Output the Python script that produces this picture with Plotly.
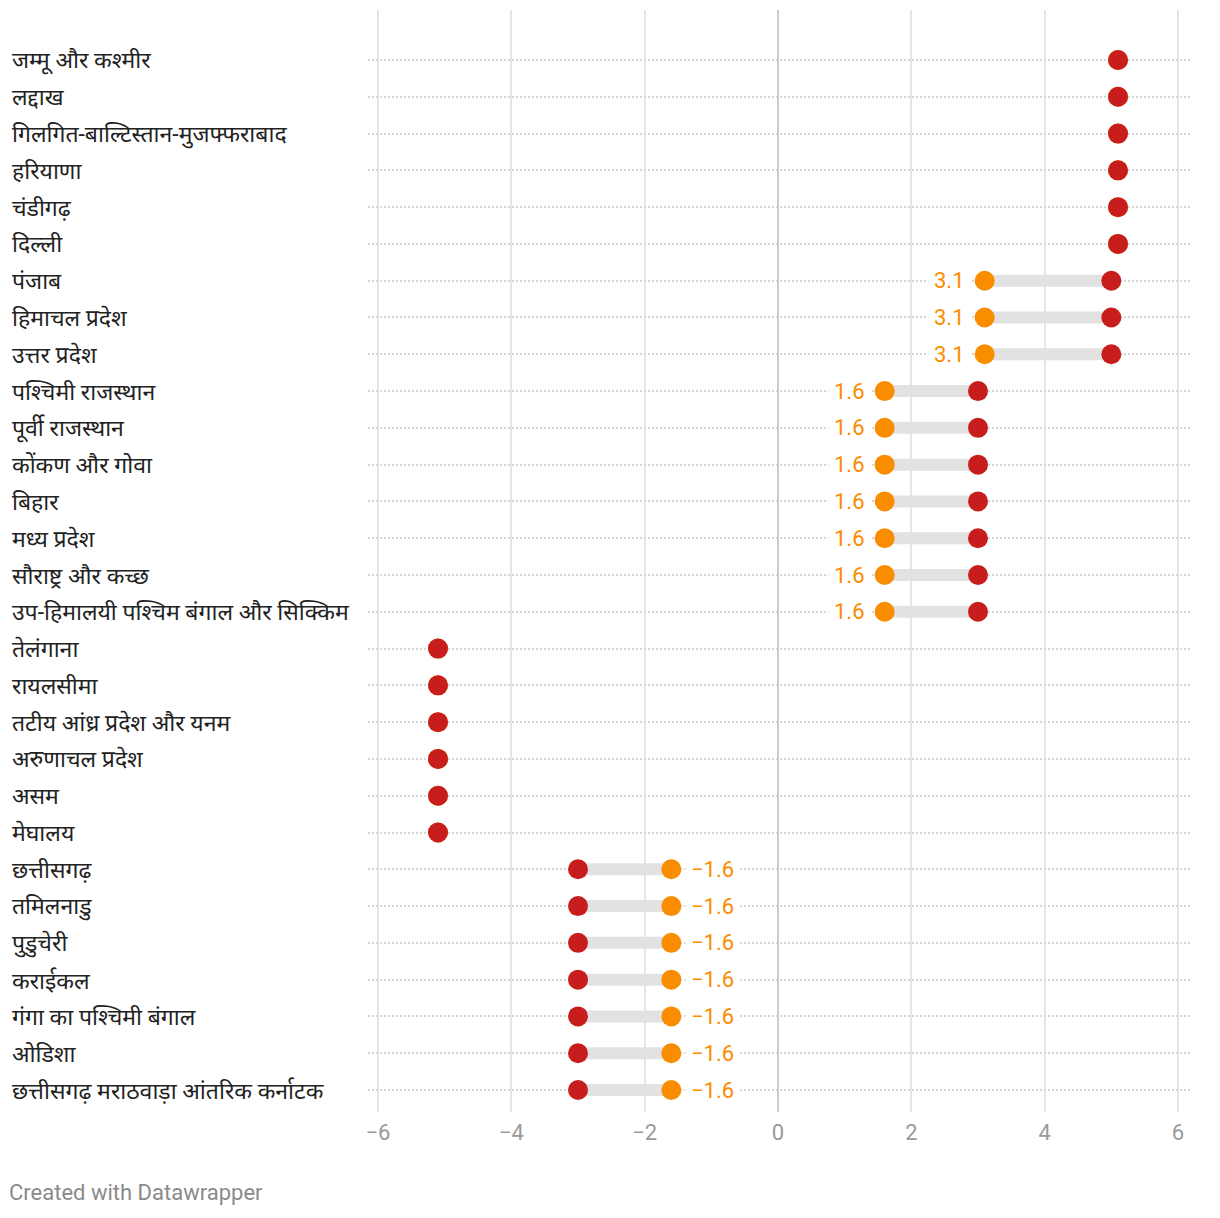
import plotly.graph_objects as go

regions = [
    "जम्मू और कश्मीर", "लद्दाख", "गिलगित-बाल्टिस्तान-मुजफ्फराबाद", "हरियाणा",
    "चंडीगढ़", "दिल्ली", "पंजाब", "हिमाचल प्रदेश", "उत्तर प्रदेश",
    "पश्चिमी राजस्थान", "पूर्वी राजस्थान", "कोंकण और गोवा", "बिहार", "मध्य प्रदेश",
    "सौराष्ट्र और कच्छ", "उप-हिमालयी पश्चिम बंगाल और सिक्किम", "तेलंगाना", "रायलसीमा",
    "तटीय आंध्र प्रदेश और यनम", "अरुणाचल प्रदेश", "असम", "मेघालय", "छत्तीसगढ़",
    "तमिलनाडु", "पुडुचेरी", "कराईकल", "गंगा का पश्चिमी बंगाल", "ओडिशा",
    "छत्तीसगढ़ मराठवाड़ा आंतरिक कर्नाटक",
]
red_values = [5.1, 5.1, 5.1, 5.1, 5.1, 5.1,
              5.0, 5.0, 5.0,
              3.0, 3.0, 3.0, 3.0, 3.0, 3.0, 3.0,
              -5.1, -5.1, -5.1, -5.1, -5.1, -5.1,
              -3.0, -3.0, -3.0, -3.0, -3.0, -3.0, -3.0]
orange_values = [5.1, 5.1, 5.1, 5.1, 5.1, 5.1,
                 3.1, 3.1, 3.1,
                 1.6, 1.6, 1.6, 1.6, 1.6, 1.6, 1.6,
                 -5.1, -5.1, -5.1, -5.1, -5.1, -5.1,
                 -1.6, -1.6, -1.6, -1.6, -1.6, -1.6, -1.6]
x_ticks = [-6, -4, -2, 0, 2, 4, 6]
x_tick_labels = ["−6", "−4", "−2", "0", "2", "4", "6"]

RED = "#c71e1d"
ORANGE = "#fa8c00"
n = len(regions)
ys = list(range(n))

fig = go.Figure()

# connectors
cx, cy = [], []
for i in range(n):
    if red_values[i] != orange_values[i]:
        cx += [red_values[i], orange_values[i], None]
        cy += [i, i, None]
fig.add_trace(go.Scatter(x=cx, y=cy, mode="lines",
                         line=dict(color="#e2e2e2", width=12),
                         hoverinfo="skip", showlegend=False))

fig.add_trace(go.Scatter(x=orange_values, y=ys, mode="markers",
                         marker=dict(color=ORANGE, size=20),
                         showlegend=False))
fig.add_trace(go.Scatter(x=red_values, y=ys, mode="markers",
                         marker=dict(color=RED, size=20),
                         showlegend=False))

# page offset compensation (body margin 8px)
OFF = 8
W, H = 1220 - OFF, 1218 - OFF
L, R, T, B = 368 - OFF, 30, 10 - OFF, 106
plot_w = W - L - R
plot_h = H - T - B
px_per_unit = 800 / 12
x0 = -6 - (378 - 368) / px_per_unit
x1 = 6 + (1190 - 1178) / px_per_unit

for i in range(n):
    if red_values[i] != orange_values[i]:
        txt = f"{orange_values[i]:.1f}".replace("-", "−")
        left = orange_values[i] < red_values[i]
        fig.add_annotation(x=orange_values[i], y=i, xref="x", yref="y", text=txt,
                           showarrow=False, xanchor="right" if left else "left",
                           yanchor="middle", xshift=-14 if left else 14,
                           bgcolor="white", borderpad=5,
                           font=dict(size=22, color=ORANGE, family="Roboto"))

for i, name in enumerate(regions):
    fig.add_annotation(x=(10 - 368) / plot_w, xref="paper", y=i, yref="y",
                       text=name, showarrow=False, xanchor="left", yanchor="middle",
                       yshift=-1,
                       font=dict(size=23, color="#222222", family="Roboto, Noto Sans"))

fig.add_annotation(x=(7 - 368) / plot_w, xref="paper", y=-(1193 - 1112) / plot_h,
                   yref="paper", text="Created with Datawrapper", showarrow=False,
                   xanchor="left", yanchor="middle",
                   font=dict(size=22, color="#8a8a8a", family="Roboto"))

fig.update_layout(
    width=W, height=H,
    margin=dict(l=L, r=R, t=T, b=B),
    plot_bgcolor="white", paper_bgcolor="white",
    xaxis=dict(range=[x0, x1], tickvals=x_ticks, ticktext=x_tick_labels,
               showgrid=True, gridcolor="#e5e5e5", gridwidth=2,
               zeroline=True, zerolinecolor="#cccccc", zerolinewidth=2,
               tickfont=dict(size=22, color="#9a9a9a", family="Roboto"),
               ticks="", ticklabelstandoff=5, fixedrange=True),
    yaxis=dict(range=[n - 1 + 0.598, -1.359], tickvals=ys, showticklabels=False,
               showgrid=True, gridcolor="#d6d6d6", griddash="2px,2px", gridwidth=2,
               zeroline=False, ticks="", fixedrange=True),
)

fig.write_html("out.html")
